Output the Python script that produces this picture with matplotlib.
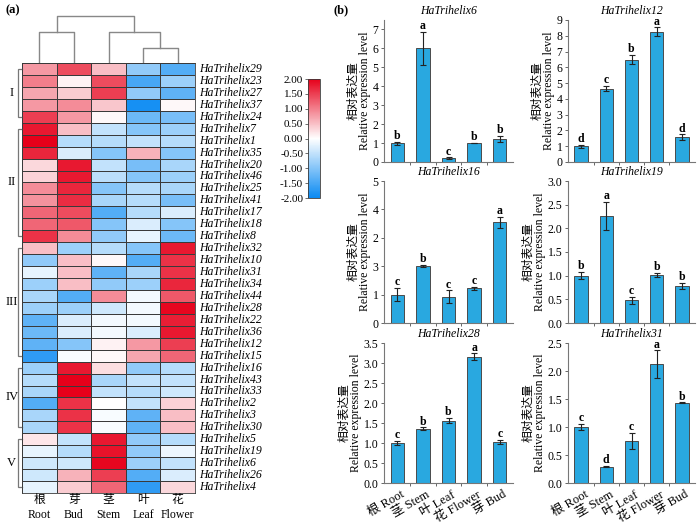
import matplotlib
matplotlib.use('Agg')
import matplotlib.pyplot as plt
import numpy as np
from matplotlib.colors import LinearSegmentedColormap

plt.rcParams['font.family'] = ['Liberation Serif', 'Noto Sans CJK SC']
plt.rcParams['axes.unicode_minus'] = False

# ---------------- data ----------------
genes = ['HaTrihelix29', 'HaTrihelix23', 'HaTrihelix27', 'HaTrihelix37', 'HaTrihelix24',
         'HaTrihelix7', 'HaTrihelix1', 'HaTrihelix35', 'HaTrihelix20', 'HaTrihelix46',
         'HaTrihelix25', 'HaTrihelix41', 'HaTrihelix17', 'HaTrihelix18', 'HaTrihelix8',
         'HaTrihelix32', 'HaTrihelix10', 'HaTrihelix31', 'HaTrihelix34', 'HaTrihelix44',
         'HaTrihelix28', 'HaTrihelix22', 'HaTrihelix36', 'HaTrihelix12', 'HaTrihelix15',
         'HaTrihelix16', 'HaTrihelix43', 'HaTrihelix33', 'HaTrihelix2', 'HaTrihelix3',
         'HaTrihelix30', 'HaTrihelix5', 'HaTrihelix19', 'HaTrihelix6', 'HaTrihelix26',
         'HaTrihelix4']
heat_cols_cn = ['根', '芽', '茎', '叶', '花']
heat_cols_en = ['Root', 'Bud', 'Stem', 'Leaf', 'Flower']
heat_values = [
    [0.8, 1.4, 0.5, -0.9, -1.4],
    [1.0, 0.1, 1.4, -1.5, -0.8],
    [0.7, 0.4, 1.5, -0.9, -1.3],
    [0.8, 0.9, 0.45, -1.9, 0.05],
    [1.5, 0.8, 0.05, -1.2, -1.1],
    [1.8, 0.5, -0.5, -1.0, -0.8],
    [2.0, -0.6, -0.6, -0.5, -0.6],
    [1.7, -0.3, -1.0, 0.6, -1.0],
    [0.3, 1.8, -0.5, -1.1, -0.7],
    [0.35, 1.8, -0.55, -1.0, -0.8],
    [0.9, 1.7, -1.0, -0.6, -0.7],
    [0.85, 1.65, -0.7, -0.6, -1.1],
    [1.2, 1.4, -1.4, -0.6, -0.3],
    [1.2, 1.3, -1.0, -0.3, -1.0],
    [1.6, 0.9, -0.9, -0.2, -1.2],
    [0.5, -0.8, -0.6, -1.0, 1.8],
    [-0.9, 0.5, 0.05, -1.4, 1.6],
    [-0.2, 0.5, -1.3, -0.7, 1.6],
    [-0.8, 0.5, -0.9, -0.8, 1.7],
    [-0.7, -1.4, 0.9, -0.1, 1.3],
    [-0.8, -0.8, -0.4, -0.1, 1.95],
    [-1.3, -0.3, -0.1, -0.1, 1.75],
    [-1.2, -0.3, -0.1, -0.3, 1.8],
    [-1.3, -1.0, 0.1, 0.8, 1.5],
    [-1.7, -0.05, 0.05, 0.7, 1.2],
    [-0.8, 1.8, 0.25, -0.9, -0.6],
    [-0.6, 2.0, -0.7, -0.5, -0.5],
    [-0.7, 2.0, -0.5, -0.6, -0.4],
    [-1.4, 1.6, 0.0, -0.5, 0.35],
    [-0.7, 1.6, -0.05, -1.3, 0.5],
    [-0.7, 1.6, -0.05, -1.3, 0.5],
    [0.2, -0.5, 1.8, -0.9, -0.6],
    [-0.2, -0.6, 1.85, -0.9, -0.15],
    [-0.4, -0.4, 1.95, -0.8, -0.5],
    [-0.4, 0.6, 1.5, -1.4, -0.3],
    [-0.2, 0.4, 1.2, -1.7, 0.3],
]
groups = ['I', 'II', 'III', 'IV', 'V']
group_sizes = [5, 10, 10, 6, 5]
# column dendrogram node heights (fraction of dendrogram height)
h_root_bud = 0.63
h_leaf_flower = 0.31
h_stem_lf = 0.63
h_top = 0.96

tissues = ['根 Root', '茎 Stem', '叶 Leaf', '花 Flower', '芽 Bud']
panel_names = ['HaTrihelix6', 'HaTrihelix12', 'HaTrihelix16',
               'HaTrihelix19', 'HaTrihelix28', 'HaTrihelix31']
means = [
    [1.0, 6.0, 0.2, 1.0, 1.2],
    [1.0, 4.65, 6.48, 8.25, 1.58],
    [1.0, 2.0, 0.93, 1.22, 3.55],
    [1.0, 2.26, 0.48, 1.02, 0.78],
    [1.0, 1.36, 1.56, 3.16, 1.03],
    [1.0, 0.29, 0.75, 2.12, 1.43],
]
errs = [
    [0.08, 0.88, 0.04, 0.02, 0.17],
    [0.1, 0.15, 0.3, 0.28, 0.17],
    [0.23, 0.04, 0.22, 0.06, 0.2],
    [0.08, 0.3, 0.07, 0.04, 0.07],
    [0.06, 0.03, 0.06, 0.08, 0.05],
    [0.06, 0.01, 0.15, 0.25, 0.01],
]
letters = [
    ['b', 'a', 'c', 'b', 'b'],
    ['d', 'c', 'b', 'a', 'd'],
    ['c', 'b', 'c', 'c', 'a'],
    ['b', 'a', 'c', 'b', 'b'],
    ['c', 'b', 'b', 'a', 'c'],
    ['c', 'd', 'c', 'a', 'b'],
]
ytick_vals = [
    [0, 1, 2, 3, 4, 5, 6, 7],
    [0, 1, 2, 3, 4, 5, 6, 7, 8, 9],
    [0, 1, 2, 3, 4, 5],
    [0, 0.5, 1.0, 1.5, 2.0, 2.5, 3.0],
    [0, 0.5, 1.0, 1.5, 2.0, 2.5, 3.0, 3.5],
    [0, 0.5, 1.0, 1.5, 2.0, 2.5],
]
ytick_labels = [
    ['0', '1', '2', '3', '4', '5', '6', '7'],
    ['0', '1', '2', '3', '4', '5', '6', '7', '8', '9'],
    ['0', '1', '3', '2', '4', '5'],
    ['0.0', '0.5', '1.0', '1.5', '2.0', '2.5', '3.0'],
    ['0.0', '0.5', '1.0', '1.5', '2.0', '2.5', '3.0', '3.5'],
    ['0.0', '0.5', '1.0', '1.5', '2.0', '2.5'],
]
ylims = [7.5, 9.0, 5.0, 3.0, 3.5, 2.5]

# ---------------- figure ----------------
W, H = 700, 525
fig = plt.figure(figsize=(7, 5.25), dpi=100)


def box(l, t, r, b):
    return [l / W, 1 - b / H, (r - l) / W, (b - t) / H]


cmap = LinearSegmentedColormap.from_list('bwr2', ['#0a8af2', '#ffffff', '#e6001a'])

# heatmap
axh = fig.add_axes(box(22, 63, 195, 493))
data = np.array(heat_values)
nrow, ncol = data.shape
mesh = axh.pcolormesh(np.arange(ncol + 1), np.arange(nrow + 1), data, cmap=cmap,
                      vmin=-2, vmax=2, edgecolors='#3a3a3a', linewidth=0.6)
axh.set_xlim(0, ncol)
axh.set_ylim(nrow, 0)
axh.set_xticks([])
axh.set_yticks([])
for s in axh.spines.values():
    s.set_color('#3a3a3a')
    s.set_linewidth(0.6)
for i, g in enumerate(genes):
    axh.text(ncol + 0.12, i + 0.5, g, style='italic', fontsize=8.5,
             ha='left', va='center')
for j in range(ncol):
    axh.text(j + 0.5, nrow + 0.62, heat_cols_cn[j], fontsize=8.5, ha='center', va='center')
    axh.text(j + 0.5, nrow + 1.85, heat_cols_en[j], fontsize=8.5, ha='center', va='center')

# row group brackets
start = 0
for g, n in zip(groups, group_sizes):
    y0 = start + 0.5
    y1 = start + n - 0.5
    xb = -0.12
    axh.plot([0, xb, xb, 0], [y0, y0, y1, y1], color='#777777', lw=0.9,
             clip_on=False, solid_joinstyle='miter')
    axh.text(-0.30, (y0 + y1) / 2, g, fontsize=9, ha='center', va='center')
    start += n

# column dendrogram
axd = fig.add_axes(box(22, 14, 195, 63))
axd.set_xlim(0, ncol)
axd.set_ylim(0, 1)
axd.axis('off')
dc = '#888888'
lw = 1.0
axd.plot([0.5, 0.5, 1.5, 1.5], [0, h_root_bud, h_root_bud, 0], color=dc, lw=lw)
axd.plot([3.5, 3.5, 4.5, 4.5], [0, h_leaf_flower, h_leaf_flower, 0], color=dc, lw=lw)
axd.plot([2.5, 2.5, 4.0, 4.0], [0, h_stem_lf, h_stem_lf, h_leaf_flower], color=dc, lw=lw)
axd.plot([1.0, 1.0, 3.25, 3.25], [h_root_bud, h_top, h_top, h_stem_lf], color=dc, lw=lw)

# colorbar
cax = fig.add_axes(box(308, 79, 320, 198))
cb = fig.colorbar(mesh, cax=cax, ticks=np.arange(-2, 2.01, 0.5))
cb.ax.yaxis.set_ticks_position('left')
cb.ax.set_yticklabels(['%.2f' % v for v in np.arange(-2, 2.01, 0.5)], fontsize=8)
cb.ax.tick_params(length=2, width=0.6, pad=1.5, color='#555555')
cb.outline.set_linewidth(0.6)
cb.outline.set_edgecolor('#3a3a3a')

fig.text(5 / W, 1 - 10 / H, '(a)', fontsize=9, fontweight='bold', ha='left', va='center')
fig.text(333 / W, 1 - 10 / H, '(b)', fontsize=9, fontweight='bold', ha='left', va='center')

# bar panels
rows_px = [(20, 162), (181, 323), (343, 483)]
cols_px = [(384, 513), (568, 695)]
x = np.arange(len(tissues))
for k, name in enumerate(panel_names):
    r, c = divmod(k, 2)
    t, b = rows_px[r]
    l, rr = cols_px[c]
    ax = fig.add_axes(box(l, t, rr, b))
    ax.bar(x, means[k], width=0.53, color='#29a8e0', edgecolor='#4a4a4a', linewidth=0.7,
           yerr=errs[k], error_kw=dict(ecolor='#222222', elinewidth=0.8, capsize=2, capthick=0.8))
    for xi, m, e, lt in zip(x, means[k], errs[k], letters[k]):
        ax.annotate(lt, (xi, m + e), xytext=(0, 2.0), textcoords='offset points',
                    ha='center', va='baseline', fontsize=8.5, fontweight='bold')
    ax.set_xlim(-0.52, len(tissues) - 0.48)
    ax.set_ylim(0, ylims[k])
    ax.set_yticks(ytick_vals[k])
    ax.set_yticklabels(ytick_labels[k], fontsize=8.5)
    ax.set_xticks(np.arange(0.5, len(tissues) - 1, 1.0))
    ax.set_xticklabels([])
    ax.tick_params(axis='both', direction='out', length=2.5, width=0.7, color='#666666', pad=1.5)
    for s in ['top', 'right']:
        ax.spines[s].set_visible(False)
    for s in ['left', 'bottom']:
        ax.spines[s].set_color('#777777')
        ax.spines[s].set_linewidth(0.8)
    ax.set_title(name, style='italic', fontsize=8.5, pad=4.5)
    ax.set_ylabel('相对表达量\nRelative expression level', fontsize=8.5, labelpad=1,
                  linespacing=1.0)
    if r == 2:
        for xi, lab in zip(x, tissues):
            ax.annotate(lab, (xi + 0.12, 0), xycoords=('data', 'axes fraction'),
                        xytext=(0, -4), textcoords='offset points',
                        rotation=30, ha='right', va='top', rotation_mode='anchor',
                        fontsize=9)

fig.savefig('out.png', dpi=100)
